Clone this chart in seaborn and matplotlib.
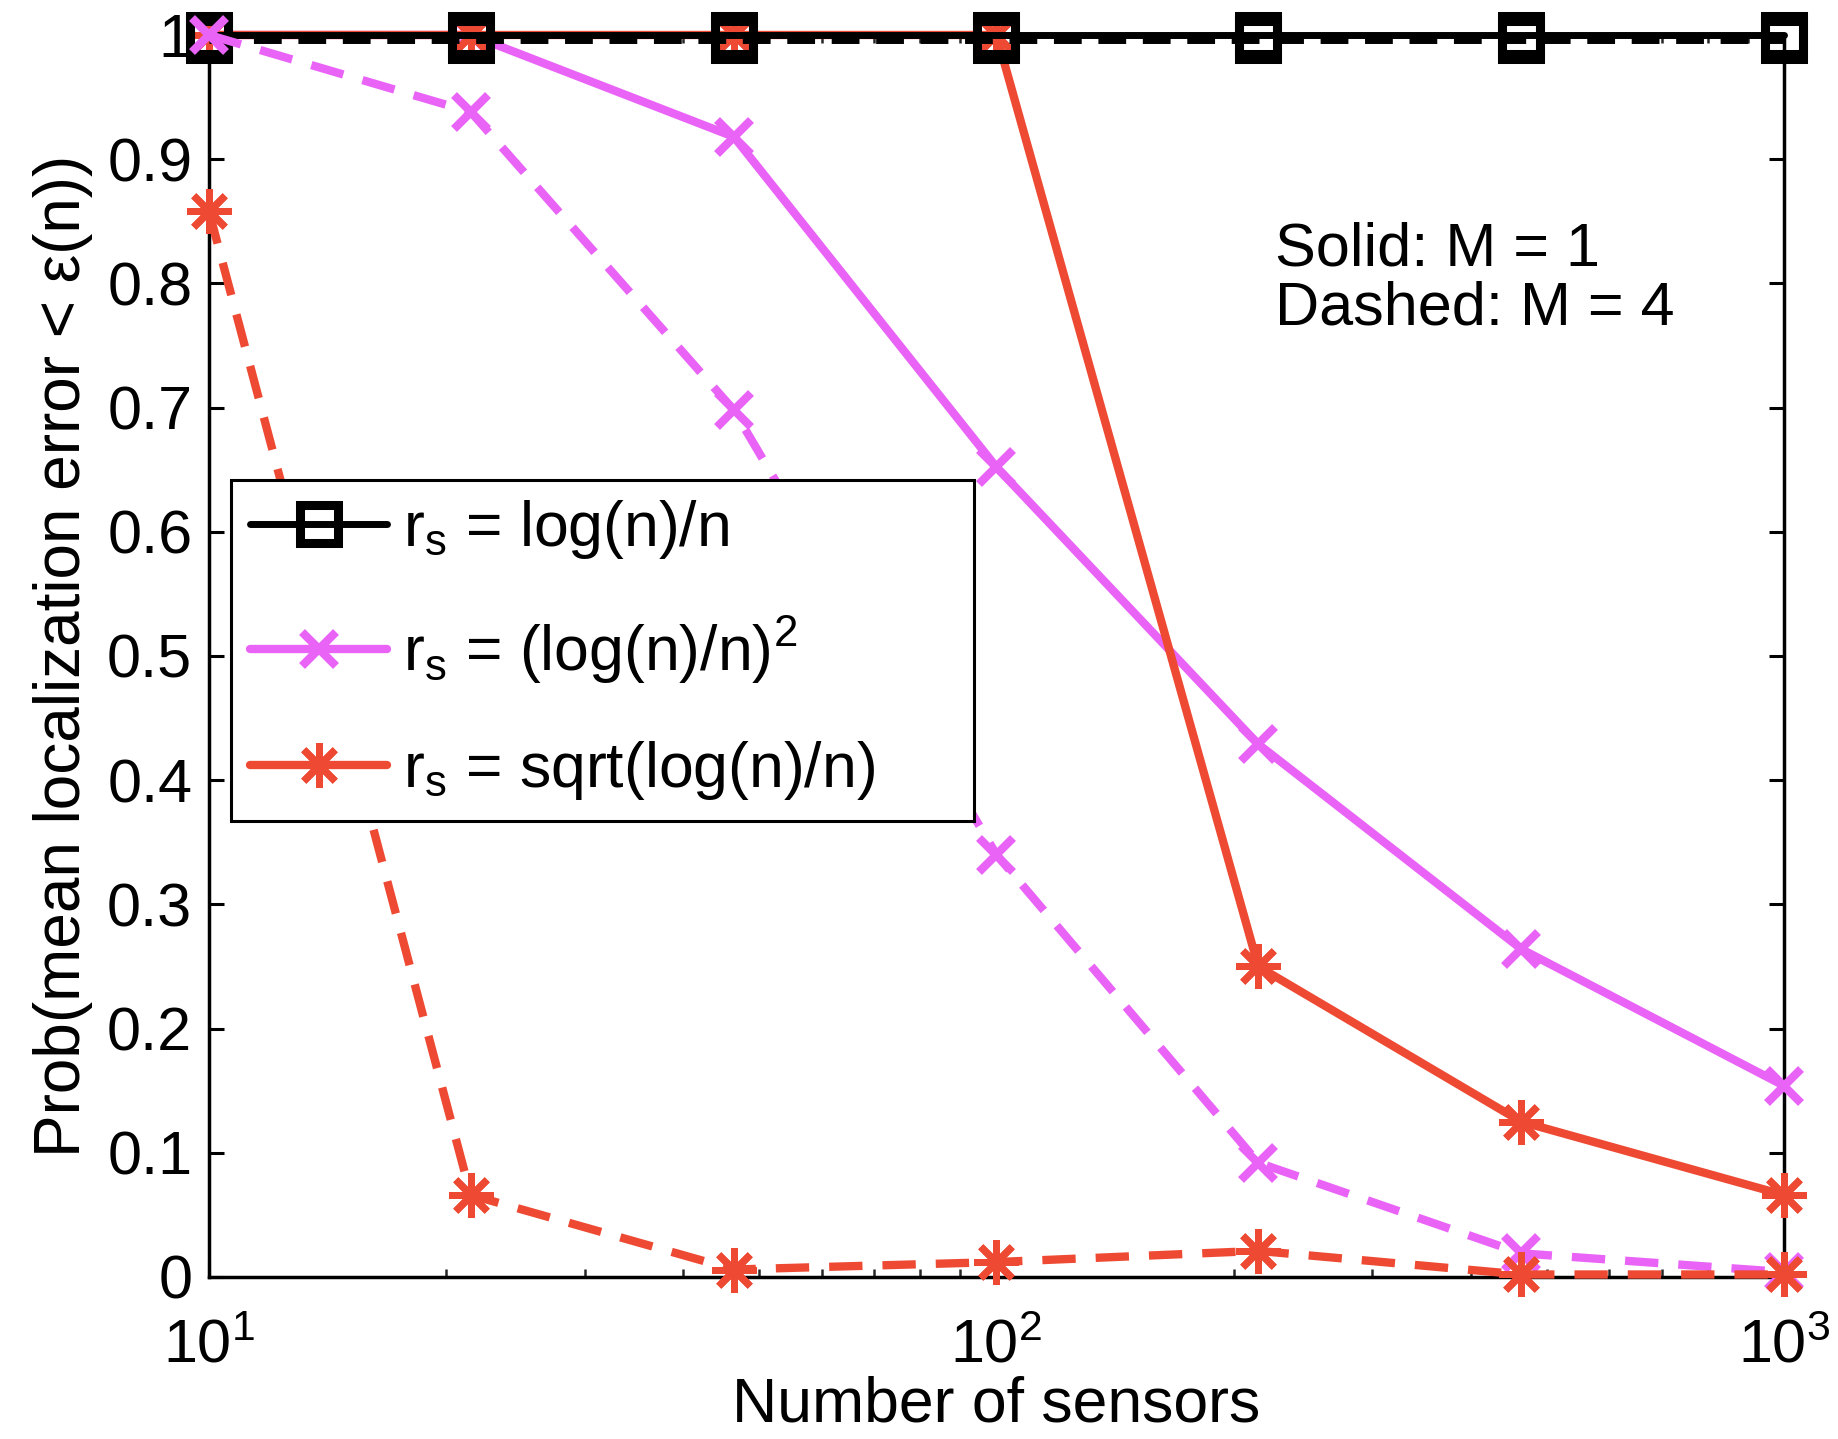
import numpy as np
import matplotlib
matplotlib.use('Agg')
import matplotlib.pyplot as plt
import seaborn as sns

# ---------- data ----------
n_sensors = [10, 21.5, 46.4, 100, 215, 464, 1000]

# solid: M = 1
p_log_m1 = [1.0, 1.0, 1.0, 1.0, 1.0, 1.0, 1.0]
p_log2_m1 = [1.0, 1.0, 0.918, 0.652, 0.429, 0.264, 0.154]
p_sqrt_m1 = [1.0, 1.0, 1.0, 1.0, 0.25, 0.125, 0.066]

# dashed: M = 4
p_log_m4 = [0.996, 0.996, 0.996, 0.996, 0.996, 0.996, 0.996]
p_log2_m4 = [1.0, 0.938, 0.698, 0.34, 0.092, 0.019, 0.004]
p_sqrt_m4 = [0.858, 0.066, 0.006, 0.012, 0.021, 0.002, 0.002]

labels = [r'$r_s$ = log(n)/n', r'$r_s$ = (log(n)/n)$^2$', r'$r_s$ = sqrt(log(n)/n)']
cor_black, cor_mag, cor_red = '#000000', '#E964F6', '#EE4A33'
dash = (0, (4, 2.4))

sns.set_theme(style='ticks')
plt.rcParams['font.family'] = ['Liberation Sans', 'DejaVu Sans']
plt.rcParams['mathtext.fontset'] = 'custom'
plt.rcParams['mathtext.rm'] = 'Liberation Sans'
plt.rcParams['mathtext.it'] = 'Liberation Sans'
plt.rcParams['mathtext.default'] = 'regular'
plt.rcParams['text.color'] = 'black'
plt.rcParams['axes.labelcolor'] = 'black'

fig = plt.figure(figsize=(18.38, 14.39), dpi=100)
ax = fig.add_axes([0.1137, 0.1126, 0.8569, 0.8631])

def serie(y, cor, mk, ms, mew, ls='-', lw=6):
    sns.lineplot(x=n_sensors, y=y, ax=ax, color=cor, marker=mk, markersize=ms,
                 markeredgewidth=mew, markeredgecolor=cor,
                 markerfacecolor='none' if mk == 's' else cor,
                 linestyle=ls, linewidth=lw, zorder=3)
    linha = ax.lines[-1]
    linha.set_clip_on(False)
    return linha

# ordem de desenho igual à do original (sobreposição dos marcadores)
ast = (8, 2, 0)
h_mag = serie(p_log2_m1, cor_mag, 'x', 24, 6)
h_red = serie(p_sqrt_m1, cor_red, ast, 32, 5)
h_blk = serie(p_log_m1, cor_black, 's', 27, 6.5, lw=5)
serie(p_log_m4, cor_black, 's', 27, 6.5, ls=dash, lw=5)
serie(p_log2_m4, cor_mag, 'x', 24, 6, ls=dash)
serie(p_sqrt_m4, cor_red, ast, 32, 5, ls=dash)

ax.set_xscale('log')
ax.set_xlim(10, 1000)
ax.set_ylim(0, 1)
ax.set_yticks(np.arange(0, 1.01, 0.1))
ax.set_yticklabels(['0', '0.1', '0.2', '0.3', '0.4', '0.5', '0.6', '0.7', '0.8', '0.9', '1'])
ax.tick_params(axis='both', which='major', direction='in', length=11, width=2.2,
               labelsize=44, top=True, right=True, pad=12, colors='black')
ax.tick_params(axis='x', which='minor', direction='in', length=6, width=1.8,
               top=True, bottom=True)
ax.tick_params(axis='x', which='major', pad=30)
for s in ax.spines.values():
    s.set_visible(True)
    s.set_linewidth(2.5)
    s.set_color('black')

ax.set_xlabel('Number of sensors', fontsize=45, labelpad=0)
ax.set_ylabel('Prob(mean localization error < ε(n))', fontsize=46, labelpad=10)

ax.text(0.677, 0.85, 'Solid: M = 1\nDashed: M = 4', transform=ax.transAxes,
        fontsize=44, va='top', ha='left', linespacing=1.05)

leg = ax.legend([h_blk, h_mag, h_red], labels, loc='upper left',
                bbox_to_anchor=(0.014, 0.642, 0.472, 0), mode='expand',
                fontsize=45, frameon=True,
                fancybox=False, framealpha=1, edgecolor='black',
                handlelength=2.2, handletextpad=0.25, labelspacing=0.85,
                borderpad=0.3, borderaxespad=0)
leg.get_frame().set_linewidth(2.2)
leg.set_zorder(5)

fig.savefig('out.png', dpi=100)
